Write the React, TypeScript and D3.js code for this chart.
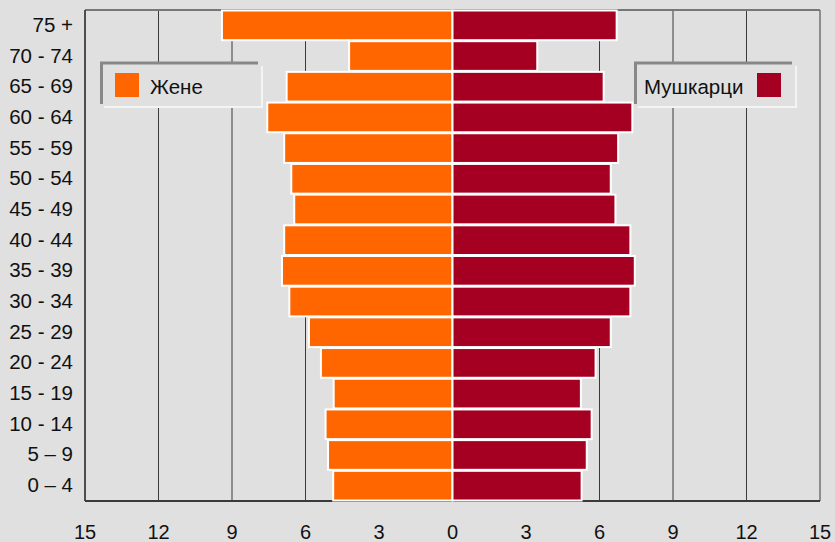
import React from 'react';
import * as d3 from 'd3';

const ageGroups = ['0 – 4', '5 – 9', '10 - 14', '15 - 19', '20 - 24', '25 - 29', '30 - 34', '35 - 39',
    '40 - 44', '45 - 49', '50 - 54', '55 - 59', '60 - 64', '65 - 69', '70 - 74', '75 +'];
const women = [4.87, 5.08, 5.18, 4.85, 5.37, 5.86, 6.66, 6.96, 6.87, 6.46, 6.58, 6.87, 7.56, 6.77, 4.22, 9.41];
const men = [5.27, 5.48, 5.68, 5.24, 5.84, 6.46, 7.26, 7.44, 7.26, 6.65, 6.46, 6.76, 7.34, 6.17, 3.46, 6.70];
const tickValues = [-15, -12, -9, -6, -3, 0, 3, 6, 9, 12, 15];
const womenLabel = 'Жене';
const menLabel = 'Мушкарци';

const width = 835;
const height = 542;
const font = 'Liberation Sans, Arial, sans-serif';

export default function App() {
    const x = d3.scaleLinear().domain([-15, 15]).range([85, 820]);
    const y = d3.scaleBand().domain(ageGroups.slice().reverse()).range([10, 501]).paddingInner(0);
    const bw = y.bandwidth();

    const grid = tickValues.map(t => (
        <line key={'g' + t} x1={x(t)} x2={x(t)} y1={10} y2={501} stroke="#3a3a3a" strokeWidth={1} />
    ));

    const bars = ageGroups.map((g, i) => (
        <g key={g}>
            <rect x={x(-women[i])} y={y(g)! + 0.5} width={x(0) - x(-women[i])} height={bw - 1}
                fill="#ff6600" stroke="white" strokeWidth={2} />
            <rect x={x(0)} y={y(g)! + 0.5} width={x(men[i]) - x(0)} height={bw - 1}
                fill="#a50021" stroke="white" strokeWidth={2} />
        </g>
    ));

    // labels sit a touch above the band centre in the original
    const yLabels = ageGroups.map(g => (
        <text key={'l' + g} x={73} y={y(g)! + bw / 2 - 1} textAnchor="end" dominantBaseline="central"
            fontSize={20.5} fontFamily={font} fill="#111">{g}</text>
    ));

    const xLabels = tickValues.map(t => (
        <text key={'t' + t} x={x(t)} y={538.5} textAnchor="middle" fontSize={20} fontFamily={font} fill="#111">
            {Math.abs(t)}
        </text>
    ));

    const legendBox = (x0: number, key: string) => (
        <g key={key}>
            <rect x={x0} y={62} width={160} height={44} fill="#e0e0e0" />
            <path d={`M${x0 + 4},107 H${x0 + 162} V66`} fill="none" stroke="#f4f4f4" strokeWidth={2} />
            <path d={`M${x0 + 1.5},104 V63 H${x0 + 158}`} fill="none" stroke="#888" strokeWidth={3} />
        </g>
    );

    return (
        <div>
            <style>{'body{margin:0;background:#e0e0e0}'}</style>
            <svg width={width} height={height} style={{ display: 'block' }}>
                <rect width={width} height={height} fill="#e0e0e0" />
                {grid}
                <line x1={85} x2={820} y1={10} y2={10} stroke="#777" strokeWidth={2} />
                <line x1={85} x2={820} y1={501} y2={501} stroke="#3a3a3a" strokeWidth={2} />
                <line x1={85} x2={85} y1={10} y2={501} stroke="#3a3a3a" strokeWidth={1.5} />
                {bars}
                {yLabels}
                {xLabels}
                {legendBox(100, 'lw')}
                <rect x={115} y={73} width={24} height={24} fill="#ff6600" />
                <text x={150} y={94} fontSize={20.5} fontFamily={font} fill="#111">{womenLabel}</text>
                {legendBox(634, 'lm')}
                <text x={644} y={94} fontSize={20.5} fontFamily={font} fill="#111">{menLabel}</text>
                <rect x={757} y={73} width={24} height={24} fill="#a50021" />
            </svg>
        </div>
    );
}
